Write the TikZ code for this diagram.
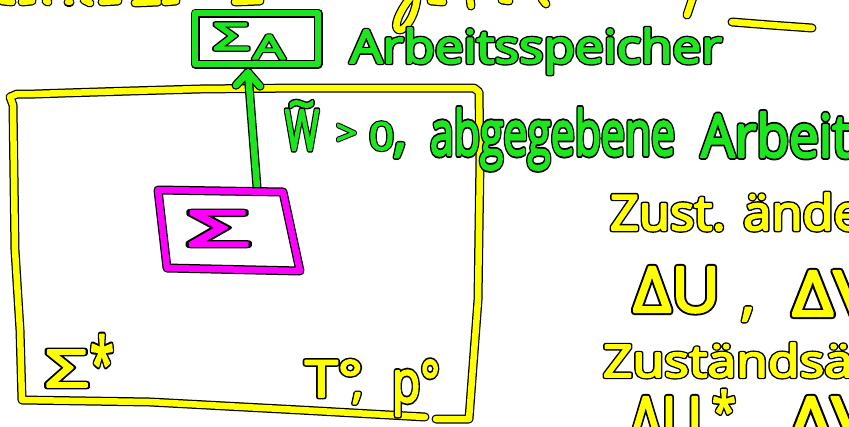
\documentclass[tikz,border=0pt]{standalone}
\usepackage{fontspec}
\usepackage{graphicx}
\setmainfont{Open Sans}
\usetikzlibrary{calc}

\definecolor{inkY}{RGB}{255,255,0}
\definecolor{inkG}{RGB}{30,230,30}
\definecolor{inkM}{RGB}{255,0,255}

% marker-pen lettering: a thick black stroked copy underneath, the coloured copy on top
\newcommand\inktext[2]{%
  \rlap{\color{black}\special{pdf:literal direct 1 j 1 J 2 Tr 4.6 w}#2\special{pdf:literal direct 0 Tr}}%
  {\color{#1}\special{pdf:literal direct 1 j 1 J 2 Tr 1.8 w}#2\special{pdf:literal direct 0 Tr}}}
% colour, width, height, text
\newcommand\hw[4]{\resizebox{#2pt}{#3pt}{\fontsize{48}{50}\selectfont\inktext{#1}{#4}}}
\newcommand\hwn[3]{{\fontsize{#2}{#2}\selectfont\inktext{#1}{#3}}}

\begin{document}
\begin{tikzpicture}[x=1pt,y=-1pt,
  inkline/.style={line width=6.5pt,line cap=round,line join=round,
    preaction={draw=black,line width=9pt,line cap=round,line join=round}},
  yink/.style={inkline,draw=inkY},
  gink/.style={inkline,draw=inkG},
  mink/.style={inkline,draw=inkM},
  txt/.style={anchor=base west,inner sep=0pt,outer sep=0pt}]

\useasboundingbox (0,0) rectangle (849,426);
\fill[white] (0,0) rectangle (849,426);

% remains of the line above (cut at the top edge)
\draw[yink] (2,1) -- (12,2);
\draw[yink] (22,2) -- (32,1);
\draw[yink] (46,1) -- (48,2);
\draw[yink] (68,2) -- (70,2);
\draw[yink] (84,0) -- (90,3);
\draw[yink] (102,2) -- (118,1);
\draw[yink] (135,3) -- (158,2);
\draw[yink] (165,2) -- (176,1);
\draw[yink] (235,2) -- (260,1);
\draw[yink] (411,-3) .. controls (400,10) and (392,28) .. (399,30)
               .. controls (405,31) and (416,15) .. (417,-3);
\draw[yink] (431,1) -- (443,2);
\draw[yink] (470,-2) -- (471,6);
\draw[yink] (502,0) -- (509,1);
\draw[yink] (542,-1) -- (546,4);
\draw[yink] (693,-3) -- (687,15);
\draw[yink] (732,22) -- (770,25) -- (812,28);

% surroundings Sigma*
\draw[yink] (425,417) -- (300,410) -- (150,402) -- (22,400) -- (20,330) -- (15,250)
  -- (13,105) -- (10,97) -- (17,94) -- (35,94) -- (65,93) -- (130,91) -- (200,89)
  -- (300,88) -- (474,88) -- (479,92) -- (480,160) -- (478,300) -- (469,419) -- (436,419);

% work reservoir Sigma_A
\node[gink,minimum width=123pt,minimum height=51pt,inner sep=0pt] (mem) at (256.5,38.5) {};
\node[txt] (sigA) at (213,50) {\hw{inkG}{36}{27}{Σ}};
\node[txt] (subA) at (253,59) {\hw{inkG}{32}{24}{A}};
\node[txt] (memlbl) at (350,63) {\hw{inkG}{372}{35}{Arbeitsspeicher}};

% system Sigma
\coordinate (m1) at (158,190);
\coordinate (m2) at (283,192);
\coordinate (m3) at (300,271);
\coordinate (m4) at (167,268);

% work delivered to the reservoir
\coordinate (tail) at (257,187);
\coordinate (tip) at ($(mem.south)+(-8.5,5)$);
\coordinate (wl) at ($(tip)+(-12,13)$);
\coordinate (wr) at ($(tip)+(12,14)$);
\draw[gink] (tail) -- (tip) (wl) -- (tip) -- (wr);

\draw[mink] (m1) -- (m2) -- (m3) -- (m4) -- cycle;
\node[txt] (sys) at (187,246) {\hw{inkM}{62}{35}{Σ}};

% W with tilde, > 0,
\node[txt] (wt) at (285,150) {\hw{inkG}{34}{40}{W}};
\node[txt] (wtil) at (288,121) {\hw{inkG}{27}{20}{\char"7E}};
\node[txt] (wgt) at (336,145) {\hw{inkG}{21}{21}{>}};
\node[txt] (wzero) at (369,150) {\hw{inkG}{25}{28}{0}};
\node[txt] (wcomma) at (393,150) {\hwn{inkG}{58}{,}};
\node[txt] (abg) at (430,155) {\hw{inkG}{245}{47}{abgegebene}};
\node[txt] (arb) at (701,157) {\hw{inkG}{150}{45}{Arbeit}};

% labels inside the surroundings
\node[txt] (sst) at (45,387) {\hw{inkY}{43}{37}{Σ}};
\node[txt] (sstar) at (90,388) {\hw{inkY}{24}{53}{*}};
\node[txt] (tnull) at (305,397) {\hw{inkY}{58}{37}{T°}};
\node[txt] (tcomma) at (352,398) {\hwn{inkY}{44}{,}};
\node[txt] (pnull) at (392,402) {\hw{inkY}{48}{42}{p°}};

% notes on the right
\node[txt] (n1) at (610,230) {\hw{inkY}{252}{37}{Zust. ände}};
\node[txt] (n2) at (633,312) {\hw{inkY}{87}{45}{ΔU}};
\node[txt] (n2c) at (741,314) {\hwn{inkY}{56}{,}};
\node[txt] (n2b) at (792,316) {\hw{inkY}{85}{45}{ΔV}};
\node[txt] (n3) at (603,377) {\hw{inkY}{250}{34}{Zuständsä}};
\node[txt] (n4) at (630,442) {\hw{inkY}{72}{45}{ΔU}};
\node[txt] (n4s) at (712,430) {\hw{inkY}{24}{40}{*}};
\node[txt] (n4b) at (790,442) {\hw{inkY}{85}{45}{ΔV}};
\end{tikzpicture}
\end{document}
